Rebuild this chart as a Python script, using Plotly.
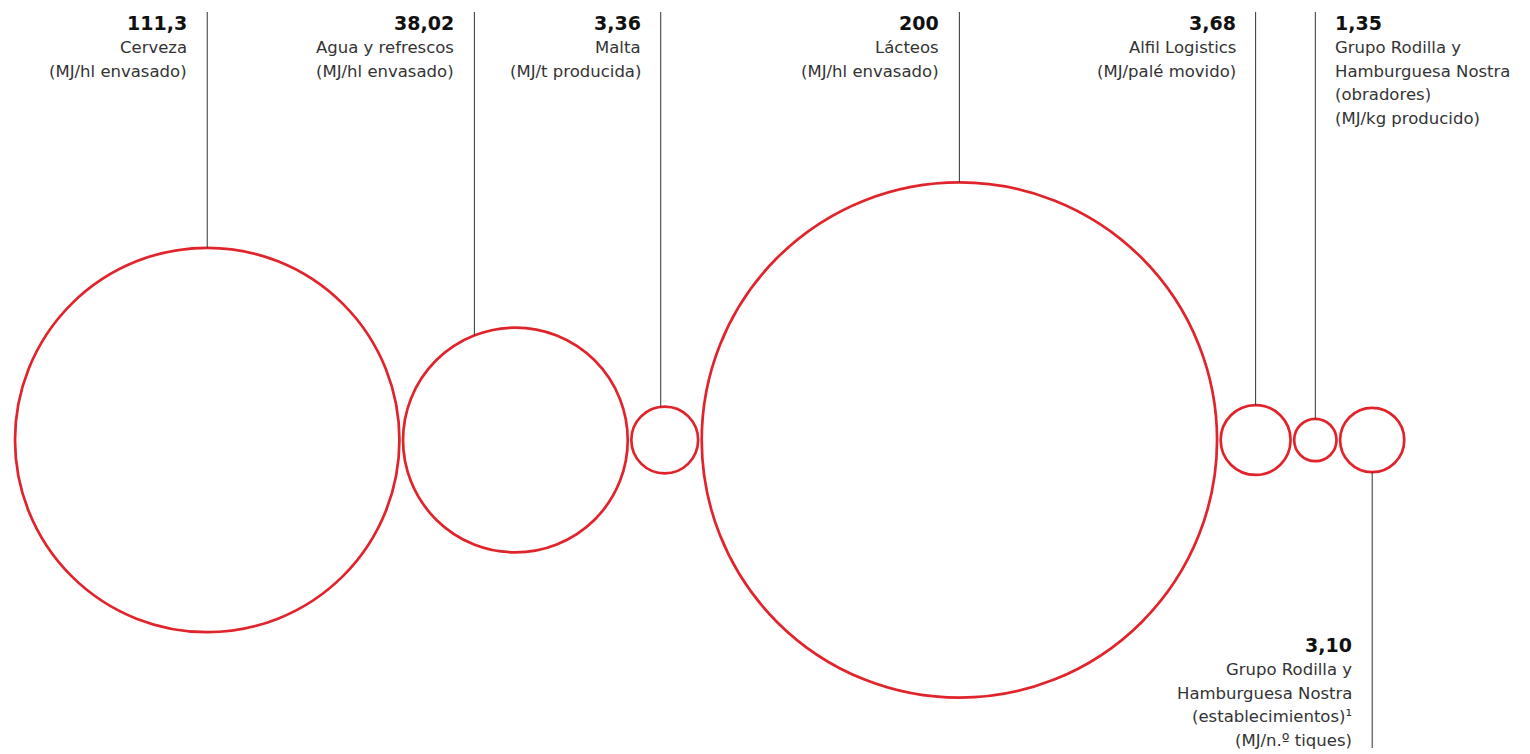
import math
import plotly.graph_objects as go

# ---------------- data ----------------
values = [111.3, 38.02, 3.36, 200, 3.68, 1.35, 3.10]
value_labels = ["111,3", "38,02", "3,36", "200", "3,68", "1,35", "3,10"]
label_lines = [
    ["Cerveza", "(MJ/hl envasado)"],
    ["Agua y refrescos", "(MJ/hl envasado)"],
    ["Malta", "(MJ/t producida)"],
    ["Lácteos", "(MJ/hl envasado)"],
    ["Alfil Logistics", "(MJ/palé movido)"],
    ["Grupo Rodilla y", "Hamburguesa Nostra", "(obradores)", "(MJ/kg producido)"],
    ["Grupo Rodilla y", "Hamburguesa Nostra", "(establecimientos)¹", "(MJ/n.º tiques)"],
]

# ---------------- layout config ----------------
W, H = 1530, 754
CY = 440            # circle centre line (px)
K = 18.22           # px radius per sqrt(unit)
GAP = 3.6           # gap between circle outlines
LEFT = 15           # left edge of first circle
leader_dx = [0, -41, -4, 0, 0, 0, 0]
label_side = ["top", "top", "top", "top", "top", "top", "bottom"]
label_align = ["right", "right", "right", "right", "right", "left", "right"]
TOP_Y = 12
BOT_Y = 748
LABEL_OFF = 19
RED = "#e1242b"
LINE = "#333333"
FONT = "DejaVu Sans"
NUM_FS = 19
LAB_FS = 16.5
STEP = 23.5

fig = go.Figure()
shapes = []
annotations = []

cx_prev_right = LEFT
for i, v in enumerate(values):
    r = K * math.sqrt(v)
    if i == 0:
        cx = LEFT + r
    else:
        cx = cx_prev_right + GAP + r
    cx_prev_right = cx + r
    shapes.append(dict(type="circle", xref="x", yref="y",
                       x0=cx - r, x1=cx + r, y0=CY - r, y1=CY + r,
                       line=dict(color=RED, width=2.7), fillcolor="rgba(0,0,0,0)"))
    lx = cx + leader_dx[i]
    dy = math.sqrt(max(r * r - leader_dx[i] ** 2, 0))
    if label_side[i] == "top":
        shapes.append(dict(type="line", xref="x", yref="y", x0=lx, x1=lx,
                           y0=TOP_Y, y1=CY - dy, line=dict(color=LINE, width=1)))
        base0 = 30
    else:
        shapes.append(dict(type="line", xref="x", yref="y", x0=lx, x1=lx,
                           y0=CY + dy, y1=BOT_Y, line=dict(color=LINE, width=1)))
        base0 = 652
    if label_align[i] == "right":
        tx, xa = lx - LABEL_OFF, "right"
    else:
        tx, xa = lx + LABEL_OFF, "left"
    texts = [(value_labels[i], True)] + [(t, False) for t in label_lines[i]]
    for j, (t, bold) in enumerate(texts):
        fs = NUM_FS if bold else LAB_FS
        base = base0 + j * STEP
        annotations.append(dict(
            x=tx, y=base - 0.346 * fs, xref="x", yref="y",
            text=f"<b>{t}</b>" if bold else t,
            showarrow=False, xanchor=xa, yanchor="middle", align=xa,
            borderpad=0,
            font=dict(family=FONT, size=fs, color="#111111" if bold else "#333333"),
        ))

fig.update_layout(
    width=W, height=H,
    margin=dict(l=0, r=0, t=0, b=0),
    paper_bgcolor="white", plot_bgcolor="white",
    xaxis=dict(range=[0, W], visible=False, fixedrange=True),
    yaxis=dict(range=[H, 0], visible=False, fixedrange=True),
    shapes=shapes, annotations=annotations,
    showlegend=False,
)
fig.write_html("out.html", config={"displayModeBar": False},
               post_script="document.body.style.margin='0';document.body.style.overflow='hidden';")
